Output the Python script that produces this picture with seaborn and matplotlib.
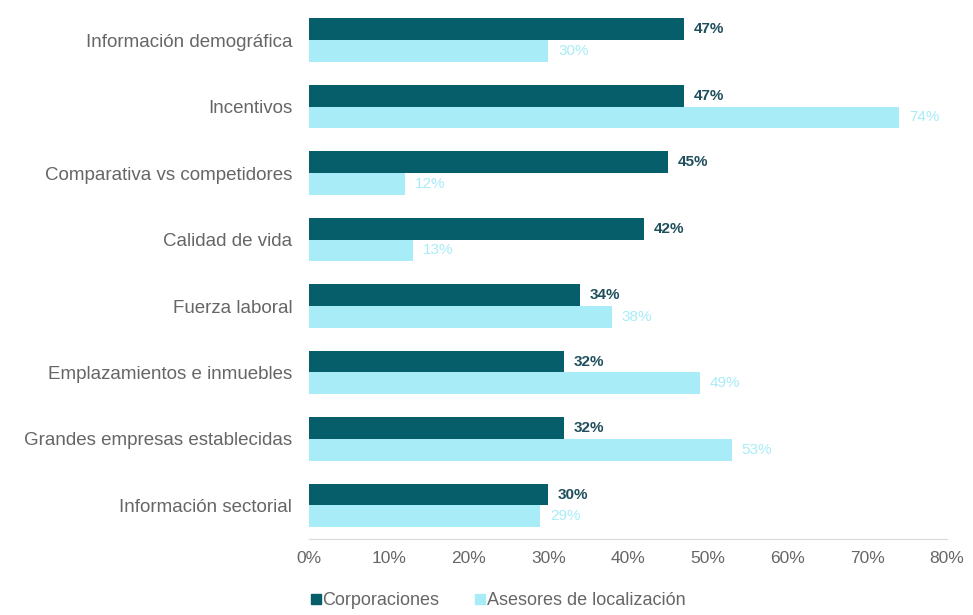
import matplotlib
matplotlib.use("Agg")
import matplotlib.pyplot as plt
import seaborn as sns
import pandas as pd
from matplotlib.ticker import PercentFormatter

categories = [
    "Información demográfica",
    "Incentivos",
    "Comparativa vs competidores",
    "Calidad de vida",
    "Fuerza laboral",
    "Emplazamientos e inmuebles",
    "Grandes empresas establecidas",
    "Información sectorial",
]
corporaciones = [47, 47, 45, 42, 34, 32, 32, 30]
asesores = [30, 74, 12, 13, 38, 49, 53, 29]
series_names = ["Corporaciones", "Asesores de localización"]
x_ticks = [0, 10, 20, 30, 40, 50, 60, 70, 80]

dark = "#075e6b"
light = "#a8ecf7"

df = pd.DataFrame({
    "categoria": categories * 2,
    "valor": corporaciones + asesores,
    "serie": [series_names[0]] * len(categories) + [series_names[1]] * len(categories),
})

sns.set_style("white")
plt.rcParams["font.family"] = ["Liberation Sans", "DejaVu Sans"]

fig = plt.figure(figsize=(9.73, 6.15), dpi=100)
ax = fig.add_axes([0.3176, 0.124, 0.6556, 0.865])

sns.barplot(data=df, y="categoria", x="valor", hue="serie", orient="h",
            palette=[dark, light], saturation=1, width=0.66, linewidth=0,
            ax=ax, legend=False)

ax.set_xlim(0, 80)
ax.set_ylim(7.5, -0.5)
ax.set_xticks(x_ticks)
ax.xaxis.set_major_formatter(PercentFormatter(decimals=0))
ax.set_xlabel("")
ax.set_ylabel("")
ax.tick_params(axis="y", length=0, labelsize=13.5, colors="#666666", pad=12)
ax.tick_params(axis="x", length=0, labelsize=12.5, colors="#666666", pad=9)

for s in ["top", "right", "left"]:
    ax.spines[s].set_visible(False)
ax.spines["bottom"].set_color("#d9d9d9")

lab_colors = ["#1f4f5c", "#a8ecf7"]
lab_weights = ["bold", "normal"]
for cont, c, w in zip(ax.containers, lab_colors, lab_weights):
    ax.bar_label(cont, labels=[f"{v:.0f}%" for v in cont.datavalues],
                 padding=7, color=c, fontsize=11, fontweight=w)

handles = [plt.Rectangle((0, 0), 1, 1, color=dark), plt.Rectangle((0, 0), 1, 1, color=light)]
fig.legend(handles, series_names, loc="center", bbox_to_anchor=(0.512, 0.023), ncol=2,
           frameon=False, handlelength=0.55, handleheight=0.55, handletextpad=0.1,
           columnspacing=2.0, fontsize=13, labelcolor="#666666")

fig.savefig("out.png", dpi=100)
